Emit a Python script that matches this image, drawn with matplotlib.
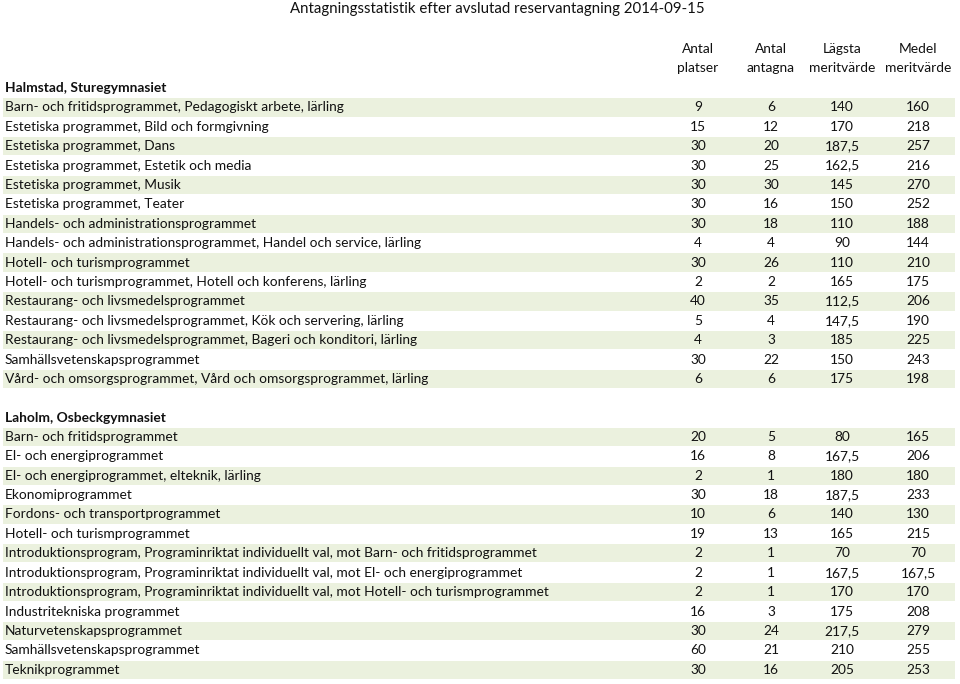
import matplotlib.pyplot as plt
from matplotlib.patches import Rectangle

plt.rcParams["font.family"] = ["Lato", "DejaVu Sans"]

title = "Antagningsstatistik efter avslutad reservantagning 2014-09-15"
col_headers = [("Antal", "platser"), ("Antal", "antagna"),
               ("Lägsta", "meritvärde"), ("Medel", "meritvärde")]

halmstad_name = "Halmstad, Sturegymnasiet"
halmstad_prog = [
    "Barn- och fritidsprogrammet, Pedagogiskt arbete, lärling",
    "Estetiska programmet, Bild och formgivning",
    "Estetiska programmet, Dans",
    "Estetiska programmet, Estetik och media",
    "Estetiska programmet, Musik",
    "Estetiska programmet, Teater",
    "Handels- och administrationsprogrammet",
    "Handels- och administrationsprogrammet, Handel och service, lärling",
    "Hotell- och turismprogrammet",
    "Hotell- och turismprogrammet, Hotell och konferens, lärling",
    "Restaurang- och livsmedelsprogrammet",
    "Restaurang- och livsmedelsprogrammet, Kök och servering, lärling",
    "Restaurang- och livsmedelsprogrammet, Bageri och konditori, lärling",
    "Samhällsvetenskapsprogrammet",
    "Vård- och omsorgsprogrammet, Vård och omsorgsprogrammet, lärling",
]
halmstad_platser = [9, 15, 30, 30, 30, 30, 30, 4, 30, 2, 40, 5, 4, 30, 6]
halmstad_antagna = [6, 12, 20, 25, 30, 16, 18, 4, 26, 2, 35, 4, 3, 22, 6]
halmstad_lagsta = [140, 170, 187.5, 162.5, 145, 150, 110, 90, 110, 165, 112.5, 147.5, 185, 150, 175]
halmstad_medel = [160, 218, 257, 216, 270, 252, 188, 144, 210, 175, 206, 190, 225, 243, 198]

laholm_name = "Laholm, Osbeckgymnasiet"
laholm_prog = [
    "Barn- och fritidsprogrammet",
    "El- och energiprogrammet",
    "El- och energiprogrammet, elteknik, lärling",
    "Ekonomiprogrammet",
    "Fordons- och transportprogrammet",
    "Hotell- och turismprogrammet",
    "Introduktionsprogram, Programinriktat individuellt val, mot Barn- och fritidsprogrammet",
    "Introduktionsprogram, Programinriktat individuellt val, mot El- och energiprogrammet",
    "Introduktionsprogram, Programinriktat individuellt val, mot Hotell- och turismprogrammet",
    "Industritekniska programmet",
    "Naturvetenskapsprogrammet",
    "Samhällsvetenskapsprogrammet",
    "Teknikprogrammet",
]
laholm_platser = [20, 16, 2, 30, 10, 19, 2, 2, 2, 16, 30, 60, 30]
laholm_antagna = [5, 8, 1, 18, 6, 13, 1, 1, 1, 3, 24, 21, 16]
laholm_lagsta = [80, 167.5, 180, 187.5, 140, 165, 70, 167.5, 170, 175, 217.5, 210, 205]
laholm_medel = [165, 206, 180, 233, 130, 215, 70, 167.5, 170, 208, 279, 255, 253]


def fmt(v):
    if float(v).is_integer():
        return str(int(v))
    return f"{v}".replace(".", ",")


STRIPE = "#EBF1DE"
TXT = "#111111"
FS = 9.95
PITCH = 19.4
COL_X = [698, 771, 842, 918]

fig = plt.figure(figsize=(9.6, 6.84), dpi=100)
ax = fig.add_axes([0, 0, 1, 1])
ax.set_xlim(0, 960)
ax.set_ylim(684, 0)
ax.axis("off")

ax.text(497, 9, title, ha="center", va="center", fontsize=10.8, color=TXT)
for x, (a, b) in zip(COL_X, col_headers):
    ax.text(x, 49, a, ha="center", va="center", fontsize=FS, color=TXT)
    ax.text(x, 68.5, b, ha="center", va="center", fontsize=FS, color=TXT)


def draw_block(y0, name, progs, platser, antagna, lagsta, medel):
    ax.text(5, y0, name, ha="left", va="center", fontsize=FS,
            fontweight="bold", color=TXT)
    for i, prog in enumerate(progs):
        y = y0 + PITCH * (i + 1)
        if i % 2 == 0:
            ax.add_patch(Rectangle((3, y - PITCH / 2 + 0.5), 952, PITCH - 1,
                                   facecolor=STRIPE, edgecolor="none", zorder=0))
        ax.text(5, y, prog, ha="left", va="center", fontsize=FS, color=TXT)
        vals = [platser[i], antagna[i], lagsta[i], medel[i]]
        for x, v in zip(COL_X, vals):
            ax.text(x, y, fmt(v), ha="center", va="center", fontsize=FS, color=TXT)


draw_block(88, halmstad_name, halmstad_prog, halmstad_platser,
           halmstad_antagna, halmstad_lagsta, halmstad_medel)
draw_block(417.5, laholm_name, laholm_prog, laholm_platser,
           laholm_antagna, laholm_lagsta, laholm_medel)

fig.savefig("out.png", dpi=100)
